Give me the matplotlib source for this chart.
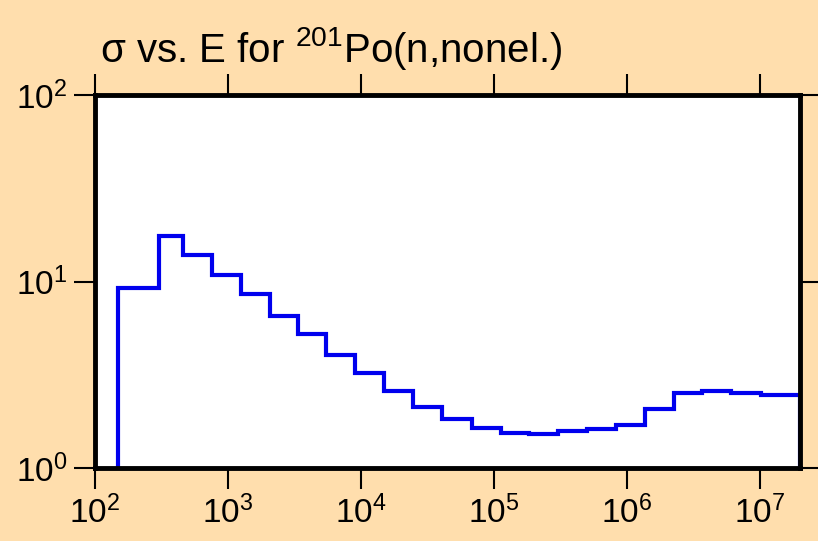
import matplotlib
matplotlib.use('Agg')
import matplotlib.pyplot as plt
from matplotlib.ticker import LogLocator, NullLocator

plt.rcParams['font.family'] = ['Liberation Sans', 'DejaVu Sans']
plt.rcParams['mathtext.fontset'] = 'custom'
plt.rcParams['mathtext.rm'] = 'Liberation Sans'
plt.rcParams['mathtext.it'] = 'Liberation Sans:italic'
plt.rcParams['mathtext.bf'] = 'Liberation Sans:bold'

# bin edges (eV) and cross section (b)
edges = [149, 302, 457, 755, 1245, 2055, 3335, 5500, 9080, 1.50e4, 2.47e4,
         4.08e4, 6.85e4, 1.13e5, 1.83e5, 3.03e5, 4.99e5, 8.24e5, 1.36e6,
         2.24e6, 3.64e6, 6.01e6, 1.01e7, 2.0e7]
sigma = [9.2, 17.5, 13.9, 10.8, 8.6, 6.5, 5.2, 4.05, 3.22, 2.6, 2.12,
         1.83, 1.63, 1.55, 1.52, 1.57, 1.61, 1.70, 2.07, 2.52, 2.60, 2.52, 2.47]

bg = '#FFDEAD'
fig = plt.figure(figsize=(8.18, 5.41), dpi=100, facecolor=bg)
ax = fig.add_axes([95/818, 1-468/541, 705/818, 373/541])
ax.set_facecolor('white')

ax.stairs(sigma, edges, baseline=1, color='#0000EE', linewidth=3)

ax.set_xscale('log')
ax.set_yscale('log')
ax.set_xlim(100, 2.0e7)
ax.set_ylim(1, 100)
ax.xaxis.set_major_locator(LogLocator(base=10, numticks=10))
ax.xaxis.set_minor_locator(NullLocator())
ax.yaxis.set_minor_locator(NullLocator())

for s in ax.spines.values():
    s.set_linewidth(3.5)
ax.tick_params(which='major', direction='out', length=15, width=1.5,
               top=True, right=True, labelsize=24, pad=5)

fig.text(100/818, 1-62/541, r'σ vs. E for $^{201}$Po(n,nonel.)',
         fontsize=29, ha='left', va='baseline')

fig.savefig('out.png', dpi=100, facecolor=bg)
